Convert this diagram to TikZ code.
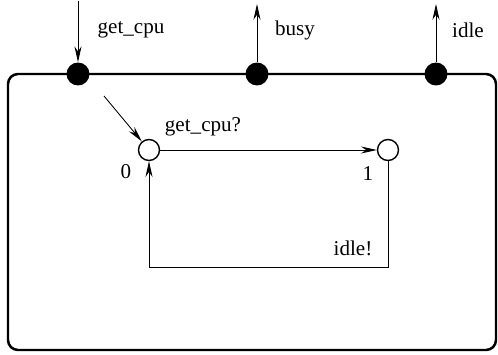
\documentclass[tikz,border=0pt]{standalone}
\usepackage{fontspec}
\setmainfont{Liberation Serif}
\usetikzlibrary{arrows.meta, positioning}
\tikzset{
    port/.style={circle, fill=black, inner sep=0pt, minimum size=0.46cm},
    state/.style={circle, draw, thick, fill=white, inner sep=0pt, minimum size=0.42cm},
    lbl/.style={font=\fontsize{12}{14}\selectfont, inner sep=1pt},
    arrow/.style={-{Stealth[length=9pt, width=4pt]}, line width=0.5pt},
    frame/.style={line width=1.4pt, rounded corners=0.2cm}
}
\begin{document}
\begin{tikzpicture}[x=0.02cm, y=-0.02cm]
        \useasboundingbox (0,0) rectangle (498,355);

        % -- Process frame with its ports --
        \draw [frame] (78,74) -- (496,74) -- (496,350) -- (8,350) -- (8,74) -- (78,74);
        \node (pcpu) [port] at (78,74) {};
        \node (pbusy) [port] at (257,74) {};
        \node (pidle) [port] at (436,74) {};

        \coordinate (cpuin) at (78,1);
        \coordinate (busyout) at (257,4);
        \coordinate (idleout) at (436,4);
        \node (lcpu) [lbl] at (131,30) {get\_cpu};
        \node (lbusy) [lbl] at (295,30) {busy};
        \node (lidle) [lbl] at (468,30) {idle};

        % -- Automaton --
        \node (s0) [state] at (149,150) {};
        \node (s1) [state] at (388,150) {};
        \node (n0) [lbl] at (126,172) {0};
        \node (n1) [lbl] at (368,174) {1};
        \coordinate (init) at (104,96);
        \coordinate (c1) at (388,267);
        \coordinate (c0) at (149,267);
        \node (lget) [lbl] at (203,127) {get\_cpu?};
        \node (lidl) [lbl] at (353,248) {idle!};

        % Connectors
        \draw [arrow] (cpuin) -- (pcpu);
        \draw [arrow] (pbusy) -- (busyout);
        \draw [arrow] (pidle) -- (idleout);
        \draw [arrow] (init) -- (s0);
        \draw [arrow] (s0) -- (s1);
        \draw [arrow] (s1) -- (c1) -- (c0) -- (s0);
    \end{tikzpicture}
\end{document}
